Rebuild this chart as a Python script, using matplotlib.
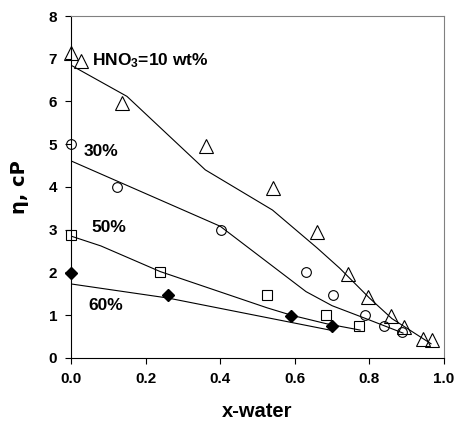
import matplotlib.pyplot as plt

plt.rcParams['font.family'] = ['Liberation Sans', 'DejaVu Sans']
plt.rcParams['font.weight'] = 'bold'
plt.rcParams['mathtext.fontset'] = 'custom'
plt.rcParams['mathtext.rm'] = 'Liberation Sans:bold'
plt.rcParams['mathtext.bf'] = 'Liberation Sans:bold'
plt.rcParams['mathtext.default'] = 'bf'

# experimental points
x10 = [0, 0.027, 0.137, 0.362, 0.542, 0.66, 0.742, 0.797, 0.858, 0.893, 0.944, 0.968]
y10 = [7.13, 6.95, 5.96, 4.96, 3.97, 2.95, 1.96, 1.43, 0.98, 0.72, 0.44, 0.42]
x30 = [0, 0.123, 0.403, 0.63, 0.703, 0.788, 0.84, 0.888]
y30 = [5.0, 4.0, 2.99, 2.0, 1.47, 1.0, 0.75, 0.6]
x50 = [0, 0.239, 0.526, 0.684, 0.772]
y50 = [2.88, 2.0, 1.47, 1.0, 0.75]
x60 = [0, 0.26, 0.59, 0.70]
y60 = [1.98, 1.46, 0.98, 0.75]

# model curves
mx10 = [0, 0.15, 0.36, 0.54, 0.66, 0.72, 0.80, 0.86, 0.965]
my10 = [6.85, 6.12, 4.40, 3.46, 2.57, 2.10, 1.40, 0.92, 0.33]
mx30 = [0, 0.40, 0.63, 0.70, 0.79, 0.84, 0.89]
my30 = [4.61, 3.08, 1.55, 1.22, 0.92, 0.75, 0.58]
mx50 = [0, 0.08, 0.239, 0.526, 0.59, 0.684, 0.775]
my50 = [2.85, 2.62, 2.02, 1.17, 1.0, 0.80, 0.65]
mx60 = [0, 0.26, 0.70]
my60 = [1.73, 1.40, 0.64]

fig = plt.figure(figsize=(4.55, 4.22), dpi=100)
ax = fig.add_axes([0.156, 0.152, 0.82, 0.81])

for mx, my in [(mx10, my10), (mx30, my30), (mx50, my50), (mx60, my60)]:
    ax.plot(mx, my, 'k-', lw=0.8)

ax.plot(x10, y10, '^', ms=10.5, mfc='none', mec='k', mew=0.8, clip_on=False)
ax.plot(x30, y30, 'o', ms=7, mfc='none', mec='k', mew=0.8, clip_on=False)
ax.plot(x50, y50, 's', ms=7, mfc='none', mec='k', mew=0.8, clip_on=False)
ax.plot(x60, y60, 'D', ms=6.5, mfc='k', mec='k', clip_on=False)

ax.text(0.056, 6.95, 'HNO$_3$=10 wt%', fontsize=12.5, fontweight='bold', va='center')
ax.text(0.035, 4.82, '30%', fontsize=12.5, fontweight='bold', va='center')
ax.text(0.056, 3.06, '50%', fontsize=12.5, fontweight='bold', va='center')
ax.text(0.046, 1.22, '60%', fontsize=12.5, fontweight='bold', va='center')

ax.set_xlim(0, 1.0)
ax.set_ylim(0, 8)
ax.set_xticks([0, 0.2, 0.4, 0.6, 0.8, 1.0])
ax.set_xticklabels(['0.0', '0.2', '0.4', '0.6', '0.8', '1.0'])
ax.set_yticks(range(0, 9))
ax.tick_params(direction='out', length=4, width=0.8, labelsize=11, pad=6)
for s in ['top', 'right']:
    ax.spines[s].set_color('#808080')
ax.spines['left'].set_linewidth(0.8)
ax.spines['bottom'].set_linewidth(0.8)

ax.set_xlabel('x-water', fontsize=14.5, fontweight='bold', labelpad=12)
ax.set_ylabel('η, cP', fontsize=14, fontweight='bold', family=['DejaVu Sans'], labelpad=14)

plt.savefig('out.png')
